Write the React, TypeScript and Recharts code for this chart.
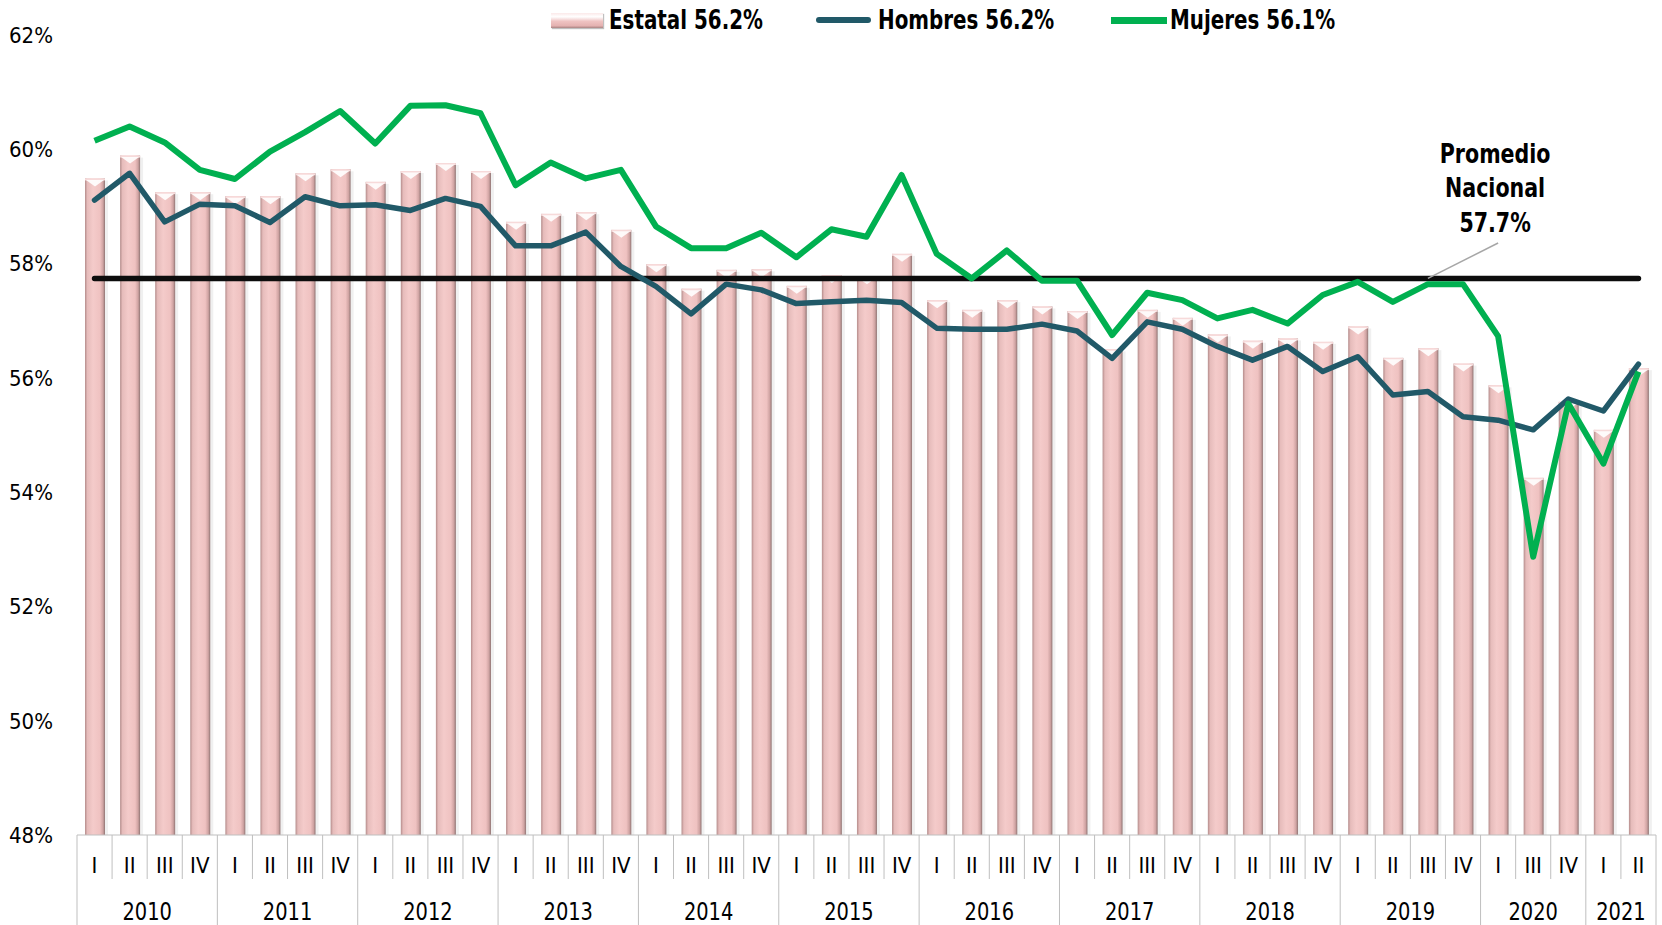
import React from 'react';
import { ComposedChart, Bar, Line, XAxis, YAxis, ReferenceLine, ReferenceDot } from 'recharts';

// ---- data ----
const YEARS = ['2010', '2011', '2012', '2013', '2014', '2015', '2016', '2017', '2018', '2019', '2020', '2021'];
const QUARTER_LABELS = [
  'I', 'II', 'III', 'IV',
  'I', 'II', 'III', 'IV',
  'I', 'II', 'III', 'IV',
  'I', 'II', 'III', 'IV',
  'I', 'II', 'III', 'IV',
  'I', 'II', 'III', 'IV',
  'I', 'II', 'III', 'IV',
  'I', 'II', 'III', 'IV',
  'I', 'II', 'III', 'IV',
  'I', 'II', 'III', 'IV',
  'I', 'III', 'IV',
  'I', 'II',
];
const QUARTERS_PER_YEAR = [4, 4, 4, 4, 4, 4, 4, 4, 4, 4, 3, 2];

const ESTATAL = [
  59.49, 59.89, 59.25, 59.25,
  59.18, 59.18, 59.58, 59.65,
  59.43, 59.62, 59.76, 59.62,
  58.73, 58.87, 58.9, 58.59,
  57.99, 57.56, 57.89, 57.9,
  57.61, 57.8, 57.78, 58.17,
  57.36, 57.19, 57.36, 57.25,
  57.17, 56.5, 57.19, 57.05,
  56.76, 56.65, 56.69, 56.63,
  56.9, 56.35, 56.52, 56.25,
  55.87, 54.25, 55.58,
  55.09, 56.17,
];
const HOMBRES = [
  59.11, 59.58, 58.73, 59.04,
  59.01, 58.72, 59.17, 59.01,
  59.03, 58.93, 59.14, 59.0,
  58.31, 58.31, 58.55, 57.95,
  57.6, 57.12, 57.64, 57.54,
  57.3, 57.33, 57.36, 57.32,
  56.87, 56.85, 56.85, 56.94,
  56.82, 56.34, 56.98, 56.85,
  56.55, 56.31, 56.55, 56.11,
  56.37, 55.7, 55.76, 55.32,
  55.26, 55.09, 55.63,
  55.42, 56.24,
];
const MUJERES = [
  60.15, 60.4, 60.12, 59.64,
  59.48, 59.96, 60.3, 60.67,
  60.1, 60.76, 60.77, 60.63,
  59.37, 59.77, 59.49, 59.64,
  58.65, 58.27, 58.27, 58.54,
  58.11, 58.6, 58.47, 59.55,
  58.17, 57.74, 58.23, 57.7,
  57.7, 56.75, 57.49, 57.36,
  57.04, 57.19, 56.95, 57.45,
  57.68, 57.33, 57.64, 57.64,
  56.73, 52.87, 55.55,
  54.5, 56.11,
];
const NACIONAL = 57.74;
const LEADER_TOP = 58.36;
const ANNOTATION_Y = 59.32;
const ANNOTATION_LINES = ['Promedio', 'Nacional', '57.7%'];
const Y_TICKS = [48, 50, 52, 54, 56, 58, 60, 62];
const LEGEND = { estatal: 'Estatal 56.2%', hombres: 'Hombres 56.2%', mujeres: 'Mujeres 56.1%' };

// ---- build table ----
const YEAR_OF: string[] = [];
const FIRST_OF_YEAR: boolean[] = [];
const COUNT_OF_YEAR: number[] = [];
YEARS.forEach((y, yi) => {
  for (let k = 0; k < QUARTERS_PER_YEAR[yi]; k++) {
    YEAR_OF.push(y);
    FIRST_OF_YEAR.push(k === 0);
    COUNT_OF_YEAR.push(QUARTERS_PER_YEAR[yi]);
  }
});
const data = QUARTER_LABELS.map((q, i) => ({
  key: `${YEAR_OF[i]}-${q}`,
  q,
  year: YEAR_OF[i],
  first: FIRST_OF_YEAR[i],
  count: COUNT_OF_YEAR[i],
  estatal: ESTATAL[i],
  hombres: HOMBRES[i],
  mujeres: MUJERES[i],
  nacional: NACIONAL,
}));
const N = data.length;

// ---- layout ----
const W = 1662;
const H = 925;
const Y_AXIS_W = 77;
const RIGHT = 6;
const TOP = 35;
const X_AXIS_H = 90;
const STEP = (W - Y_AXIS_W - RIGHT) / N;
const FONT = "'Liberation Sans Narrow', 'DejaVu Sans Condensed', 'Arial Narrow', Carlito, Calibri, sans-serif";
const GRID = '#bfbfbf';
const C_HOMBRES = '#215968';
const C_MUJERES = '#00B050';

function XTick(props: any) {
  const { x, y, payload } = props;
  let i = typeof props.index === 'number' ? props.index : -1;
  if (i < 0 || !data[i] || data[i].key !== payload.value) i = data.findIndex((d) => d.key === payload.value);
  const d = data[i];
  if (!d) return null;
  const left = x - STEP / 2;
  const right = x + STEP / 2;
  const yearX = left + (d.count * STEP) / 2;
  return (
    <g>
      <line x1={left} x2={left} y1={y} y2={y + (d.first ? X_AXIS_H : 44)} stroke={GRID} strokeWidth={1} />
      {i === N - 1 && <line x1={right} x2={right} y1={y} y2={y + X_AXIS_H} stroke={GRID} strokeWidth={1} />}
      <text x={x} y={y + 30} textAnchor="middle" dominantBaseline="central" fontSize={22} fill="#000" fontFamily={FONT}>
        {d.q}
      </text>
      {d.first && (
        <text
          x={0}
          y={0}
          transform={`translate(${yearX},${y + 77}) scale(0.9,1)`}
          textAnchor="middle"
          dominantBaseline="central"
          fontSize={24}
          fill="#000"
          fontFamily={FONT}
        >
          {d.year}
        </text>
      )}
    </g>
  );
}

function BarShape(props: any) {
  const { x, y, width, height } = props;
  if (!height || height <= 0) return null;
  const tri = Math.min(8, height);
  return (
    <g>
      <rect x={x + width} y={y + 2} width={3} height={height - 2} fill="#000" opacity={0.06} />
      <rect x={x} y={y} width={width} height={height} fill="url(#barGrad)" />
      <rect x={x} y={y} width={width} height={2} fill="#f7dada" />
      <polygon points={`${x + 1},${y + 1.5} ${x + width - 1},${y + 1.5} ${x + width / 2},${y + tri}`} fill="#ffffff" opacity={0.9} />
    </g>
  );
}

function Annotation(props: any) {
  const { cx, cy } = props;
  if (cx == null || cy == null) return null;
  return (
    <g>
      {ANNOTATION_LINES.map((t, k) => (
        <text
          key={t}
          x={0}
          y={0}
          transform={`translate(${cx - 3},${cy + (k - 1) * 34.5}) scale(0.88,1)`}
          textAnchor="middle"
          dominantBaseline="central"
          fontSize={26}
          fontWeight={700}
          fill="#000"
          fontFamily={FONT}
        >
          {t}
        </text>
      ))}
    </g>
  );
}

const legendText: React.CSSProperties = {
  position: 'absolute',
  top: 20,
  display: 'inline-block',
  transform: 'translateY(-50%) scaleX(0.85)',
  transformOrigin: 'left center',
  fontSize: 26,
  fontWeight: 700,
  lineHeight: 1,
  whiteSpace: 'nowrap',
  color: '#000',
  fontFamily: FONT,
};

export default function App() {
  return (
    <div style={{ position: 'absolute', left: 0, top: 0, width: W, height: H, background: '#fff', fontFamily: FONT, overflow: 'hidden' }}>
      <ComposedChart width={W} height={H} data={data} margin={{ top: TOP, right: RIGHT, bottom: 0, left: 0 }} barCategoryGap="43%">
        <defs>
          <linearGradient id="barGrad" x1="0" y1="0" x2="1" y2="0">
            <stop offset="0%" stopColor="#b48c8b" />
            <stop offset="12%" stopColor="#e6bcbb" />
            <stop offset="40%" stopColor="#f4cbca" />
            <stop offset="75%" stopColor="#efc2c1" />
            <stop offset="90%" stopColor="#cfa3a2" />
            <stop offset="100%" stopColor="#8e7473" />
          </linearGradient>
        </defs>
        <XAxis
          dataKey="key"
          height={X_AXIS_H}
          interval={0}
          tickLine={false}
          tickSize={0}
          tickMargin={0}
          axisLine={{ stroke: GRID, strokeWidth: 1 }}
          tick={<XTick />}
        />
        <YAxis
          domain={[48, 62]}
          ticks={Y_TICKS}
          width={Y_AXIS_W}
          axisLine={false}
          tickLine={false}
          tickSize={0}
          tickMargin={24}
          allowDataOverflow
          tickFormatter={(v: number) => `${v}%`}
          tick={{ fontSize: 22, fill: '#000', fontFamily: FONT }}
        />
        <Bar dataKey="estatal" barSize={20} fill="#f2c6c4" shape={<BarShape />} isAnimationActive={false} />
        <Line dataKey="nacional" stroke="#0d0d0d" strokeWidth={5.5} strokeLinecap="round" dot={false} activeDot={false} isAnimationActive={false} />
        <Line dataKey="hombres" stroke={C_HOMBRES} strokeWidth={5.5} strokeLinejoin="round" strokeLinecap="round" dot={false} activeDot={false} isAnimationActive={false} />
        <Line dataKey="mujeres" stroke={C_MUJERES} strokeWidth={6} strokeLinejoin="round" dot={false} activeDot={false} isAnimationActive={false} />
        <ReferenceLine
          segment={[{ x: data[38].key, y: NACIONAL }, { x: data[40].key, y: LEADER_TOP }]}
          stroke="#a6a6a6"
          strokeWidth={1.5}
          ifOverflow="visible"
        />
        <ReferenceDot x={data[40].key} y={ANNOTATION_Y} r={0} ifOverflow="visible" shape={<Annotation />} />
      </ComposedChart>

      {/* legend */}
      <div
        style={{
          position: 'absolute',
          left: 551,
          top: 13,
          width: 52,
          height: 15,
          background: 'linear-gradient(to bottom, #fbe9e9 0%, #ffffff 25%, #efc3c2 55%, #e4b2b1 85%, #a98483 100%)',
          boxShadow: '1px 1px 1px rgba(0,0,0,0.25)',
        }}
      />
      <span style={{ ...legendText, left: 609 }}>{LEGEND.estatal}</span>
      <div style={{ position: 'absolute', left: 816, top: 17, width: 55, height: 6, borderRadius: 3, background: C_HOMBRES }} />
      <span style={{ ...legendText, left: 878 }}>{LEGEND.hombres}</span>
      <div style={{ position: 'absolute', left: 1111, top: 17, width: 56, height: 7, background: C_MUJERES }} />
      <span style={{ ...legendText, left: 1170 }}>{LEGEND.mujeres}</span>
    </div>
  );
}
